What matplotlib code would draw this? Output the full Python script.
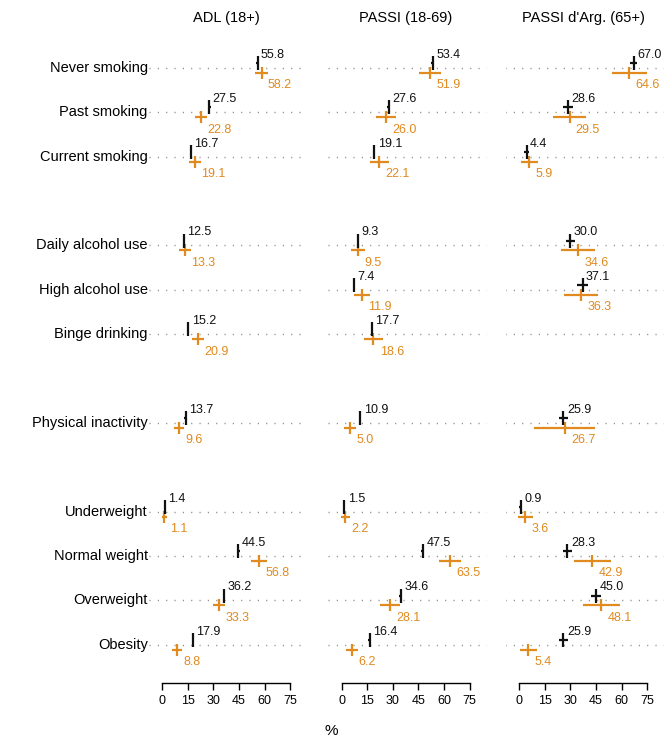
import numpy as np
import matplotlib.pyplot as plt

plt.rcParams['font.family'] = ['Liberation Sans', 'DejaVu Sans']

# ---- data ----
categories = ["Never smoking", "Past smoking", "Current smoking",
              "Daily alcohol use", "High alcohol use", "Binge drinking",
              "Physical inactivity",
              "Underweight", "Normal weight", "Overweight", "Obesity"]
row_pos = [0, 1, 2, 4, 5, 6, 8, 10, 11, 12, 13]
panel_titles = ["ADL (18+)", "PASSI (18-69)", "PASSI d'Arg. (65+)"]

nan = np.nan
# black: survey estimate, orange: comparison estimate (with CI half-widths)
adl_black = [55.8, 27.5, 16.7, 12.5, nan, 15.2, 13.7, 1.4, 44.5, 36.2, 17.9]
adl_black_ci = [0.8, 0.8, 0.7, 0.6, nan, 0.7, 0.7, 0.3, 0.8, 0.8, 0.7]
adl_orange = [58.2, 22.8, 19.1, 13.3, nan, 20.9, 9.6, 1.1, 56.8, 33.3, 8.8]
adl_orange_ci = [4.0, 3.4, 3.3, 3.3, nan, 3.6, 3.0, 1.5, 4.7, 3.7, 3.0]

passi_black = [53.4, 27.6, 19.1, 9.3, 7.4, 17.7, 10.9, 1.5, 47.5, 34.6, 16.4]
passi_black_ci = [0.8, 0.8, 0.7, 0.6, 0.6, 0.7, 0.6, 0.3, 0.8, 0.8, 0.7]
passi_orange = [51.9, 26.0, 22.1, 9.5, 11.9, 18.6, 5.0, 2.2, 63.5, 28.1, 6.2]
passi_orange_ci = [6.5, 6.0, 5.7, 4.2, 4.9, 5.4, 3.5, 2.4, 6.6, 5.9, 3.4]

parg_black = [67.0, 28.6, 4.4, 30.0, 37.1, nan, 25.9, 0.9, 28.3, 45.0, 25.9]
parg_black_ci = [2.2, 2.7, 1.5, 2.5, 3.4, nan, 2.5, 0.9, 2.6, 2.8, 2.7]
parg_orange = [64.6, 29.5, 5.9, 34.6, 36.3, nan, 26.7, 3.6, 42.9, 48.1, 5.4]
parg_orange_ci = [10.0, 9.6, 4.9, 10.0, 9.9, nan, 18.0, 4.4, 10.7, 10.7, 5.0]

panels = [
    (adl_black, adl_black_ci, adl_orange, adl_orange_ci),
    (passi_black, passi_black_ci, passi_orange, passi_orange_ci),
    (parg_black, parg_black_ci, parg_orange, parg_orange_ci),
]

BLACK = "#111111"
ORANGE = "#E08A1F"

W, H = 668, 744
fig = plt.figure(figsize=(W / 100, H / 100), dpi=100)

x_left = [148.6, 328.0, 505.5]   # pixel left edge of each panel
ax_w = 158.8
ax_top, ax_bot = 23.6, 683.0

ypos = np.array(row_pos, dtype=float)

for i, (b, bci, o, oci) in enumerate(panels):
    ax = fig.add_axes([x_left[i] / W, 1 - ax_bot / H, ax_w / W, (ax_bot - ax_top) / H])
    ax.set_xlim(-8, 85)
    ax.set_ylim(13.86, -1.0)

    # dotted guide lines
    for y in ypos:
        ax.plot([-8, 85], [y, y], color="#8a8a8a", lw=1.0,
                linestyle=(0, (0.8, 5.2)), zorder=1)

    b = np.array(b); bci = np.array(bci)
    o = np.array(o); oci = np.array(oci)
    yb = ypos - 0.11
    yo = ypos + 0.11

    ax.errorbar(o, yo, xerr=oci, fmt="none", ecolor=ORANGE, elinewidth=1.6,
                capsize=0, zorder=2)
    ax.plot(o, yo, linestyle="none", marker="|", markersize=9, mew=1.6,
            color=ORANGE, zorder=3)
    ax.errorbar(b, yb, xerr=bci, fmt="none", ecolor=BLACK, elinewidth=1.6,
                capsize=0, zorder=4)
    ax.plot(b, yb, linestyle="none", marker="|", markersize=9.5, mew=1.6,
            color=BLACK, zorder=5)

    for xv, yv in zip(b, yb):
        if not np.isnan(xv):
            ax.annotate(f"{xv:.1f}", (xv, yv), xytext=(2.5, 6), textcoords="offset points",
                        ha="left", va="center", fontsize=9, color=BLACK)
    for xv, yv in zip(o, yo):
        if not np.isnan(xv):
            ax.annotate(f"{xv:.1f}", (xv, yv), xytext=(4.5, -9), textcoords="offset points",
                        ha="left", va="center", fontsize=9, color=ORANGE)

    for s in ["top", "right", "left"]:
        ax.spines[s].set_visible(False)
    ax.spines["bottom"].set_bounds(0, 75)
    ax.spines["bottom"].set_linewidth(1.0)
    ax.set_xticks([0, 15, 30, 45, 60, 75])
    ax.tick_params(axis="x", direction="out", length=5, width=1.0, labelsize=9, pad=4)
    ax.set_yticks([])
    ax.patch.set_alpha(0)

    cx = (x_left[i] + 8 * ax_w / 93 + 37.5 * ax_w / 93) / W
    fig.text(cx, 1 - 18 / H, panel_titles[i], ha="center", va="center", fontsize=10.5)

    if i == 0:
        for lab, y in zip(categories, ypos):
            ax.text(-8.5, y, lab, ha="right", va="center", fontsize=10.5, clip_on=False)

fig.text(331 / W, 1 - 731 / H, "%", ha="center", va="center", fontsize=11)

fig.savefig("out.png", dpi=100)
